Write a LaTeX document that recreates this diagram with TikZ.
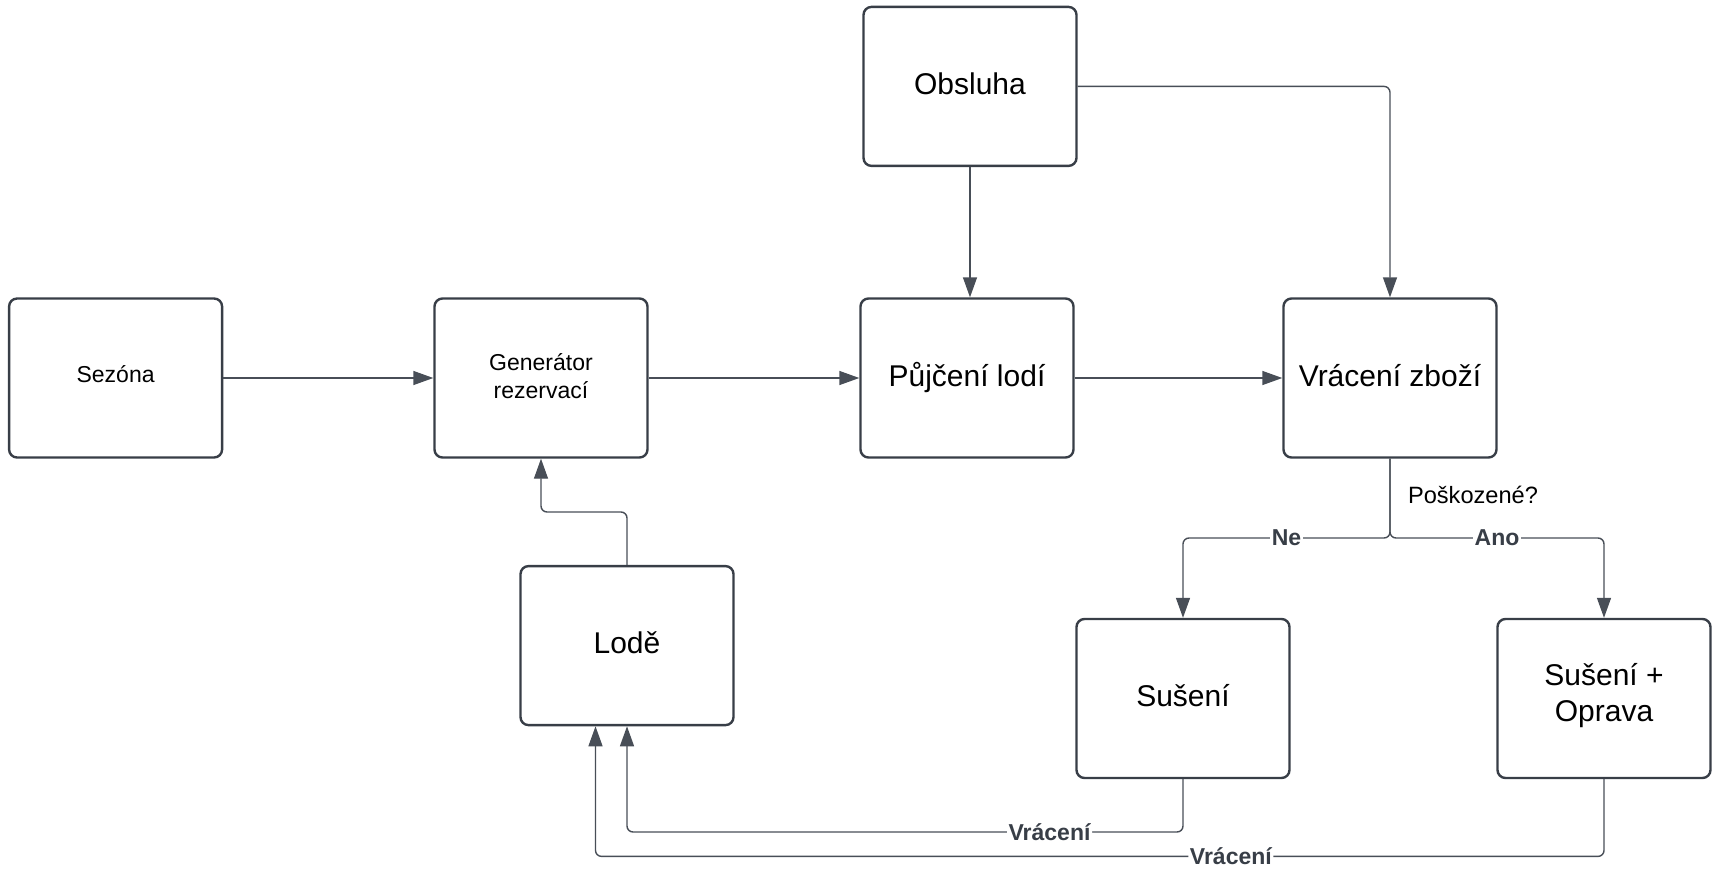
\documentclass[tikz,border=0pt]{standalone}
\usepackage{fontspec}
\setmainfont{Liberation Sans}
\usetikzlibrary{arrows.meta,calc}
\definecolor{boxline}{RGB}{56,62,71}
\definecolor{wireline}{RGB}{72,78,87}
\tikzset{
 block/.style={draw=boxline, line width=1.2pt, rounded corners=4pt, minimum width=106.5pt, minimum height=79.5pt, align=center, inner sep=2pt, text height=11pt, text depth=2.8pt, font=\fontsize{15}{18}\selectfont},
 small block/.style={block, text height=8.3pt, text depth=4pt, font=\fontsize{11.5}{14.3}\selectfont},
 two lines/.style 2 args={text height=#1, text depth=#2},
 wire/.style={draw=wireline, line width=0.7pt, rounded corners=3pt, -{Triangle[length=10pt,width=7pt]}},
 wire label/.style={fill=white, inner sep=0.8pt, text=boxline, font=\bfseries\fontsize{11.5}{13}\selectfont}
}

\begin{document}
\begin{tikzpicture}[x=0.5pt, y=-0.5pt]
 \useasboundingbox (0,0) rectangle (1726,889);
%
 \node[small block, two lines={23.5pt}{2.8pt}] (gen) at (541,378) {Generátor\\rezervací};
 \node[small block] (sez) at (115.6,378) {Sezóna};
 \node[block] (puj) at (967,378) {Půjčení lodí};
 \node[block] (vrz) at (1390,378) {Vrácení zboží};
 \node[block] (obs) at (970,86.4) {Obsluha};
 \node[block] (lode) at (627,645.6) {Lodě};
 \node[block] (sus) at (1183,698.5) {Sušení};
 \node[block, two lines={29pt}{5.8pt}] (opr) at (1604,698.5) {Sušení +\\Oprava};
%
 \coordinate (lodeup) at (627,512);
 \coordinate (branch) at (1390,538);
 \coordinate (back1) at (0,832);
 \coordinate (back2) at (0,856.4);
 \coordinate (lodein) at ($(lode.south)+(-31.5,0)$);
%
 \draw[wire] (sez) -- (gen);
 \draw[wire] (gen) -- (puj);
 \draw[wire] (puj) -- (vrz);
 \draw[wire] (obs.south) -- (obs.south |- puj.north);
 \draw[wire] (obs.east) -| (vrz.north);
 \draw[wire] (lode.north) -- (lodeup) -| (gen.south);
%
 \node[font=\fontsize{11.8}{14}\selectfont] (dmg) at (1473,495) {Poškozené?};
 \draw[wire] (vrz.south) -- (branch) -| node[wire label, pos=0.25] {Ne} (sus.north);
 \draw[wire] (vrz.south) -- (branch) -| node[wire label, pos=0.25] {Ano} (opr.north);
%
 \draw[wire] (sus.south) -- (sus.south |- back1) -- node[wire label, pos=0.24] {Vrácení} (lode.south |- back1) -- (lode.south);
 \draw[wire] (opr.south) -- (opr.south |- back2) -- node[wire label, pos=0.37] {Vrácení} (lodein |- back2) -- (lodein);
\end{tikzpicture}
\end{document}
